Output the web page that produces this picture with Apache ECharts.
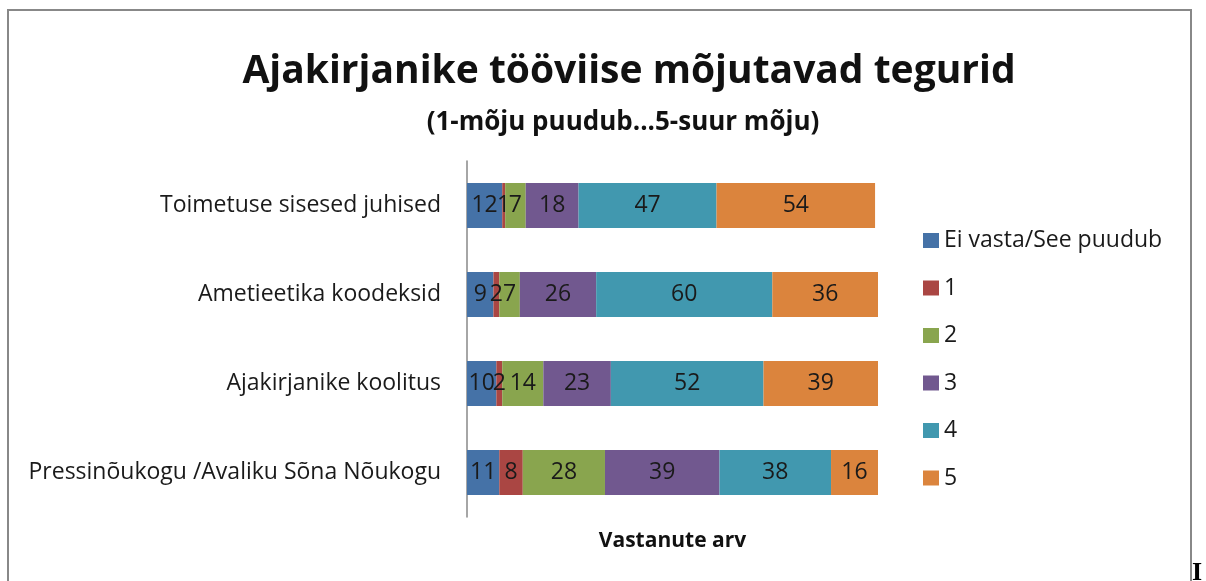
<!DOCTYPE html>
<html>
<head>
<meta charset="utf-8">
<script src="https://cdn.jsdelivr.net/npm/echarts@6/dist/echarts.min.js"></script>
<style>
  html, body { margin: 0; padding: 0; background: #fff; }
  #chart { width: 1206px; height: 581px; }
</style>
</head>
<body>
<div id="chart"></div>
<script>
// andmed
var categories = ['Toimetuse sisesed juhised', 'Ametieetika koodeksid', 'Ajakirjanike koolitus', 'Pressinõukogu /Avaliku Sõna Nõukogu'];
var seriesNames = ['Ei vasta/See puudub', '1', '2', '3', '4', '5'];
var eiVasta = [12, 9, 10, 11];
var hinne1 = [1, 2, 2, 8];
var hinne2 = [7, 7, 14, 28];
var hinne3 = [18, 26, 23, 39];
var hinne4 = [47, 60, 52, 38];
var hinne5 = [54, 36, 39, 16];
var colors = ['#4572A7', '#AA4643', '#89A54E', '#71588F', '#4198AF', '#DB843D'];

var font = '"Open Sans", "Noto Sans", sans-serif';

function createChart(id) {
    var myChart = echarts.init(document.getElementById(id));
    var values = [eiVasta, hinne1, hinne2, hinne3, hinne4, hinne5];
    var series = [];
    for (var i = 0; i < seriesNames.length; i++) {
        series.push({
            name: seriesNames[i],
            type: 'bar',
            stack: 'kokku',
            barWidth: 45,
            data: values[i],
            itemStyle: { color: colors[i] },
            label: {
                show: true,
                position: 'inside',
                color: '#1a1a1a',
                fontFamily: font,
                fontSize: 23
            }
        });
    }
    var option = {
        animation: false,
        color: colors,
        title: [{
            text: 'Ajakirjanike tööviise mõjutavad tegurid',
            left: 624,
            top: 47,
            textAlign: 'center',
            textStyle: { fontFamily: font, fontSize: 39, fontWeight: 'bold', color: '#111' }
        }, {
            text: '(1-mõju puudub...5-suur mõju)',
            left: 618,
            top: 105,
            textAlign: 'center',
            textStyle: { fontFamily: font, fontSize: 26, fontWeight: 'bold', color: '#111' }
        }],
        legend: {
            orient: 'vertical',
            left: 918,
            top: 224,
            itemWidth: 16,
            itemHeight: 15,
            itemGap: 24.5,
            icon: 'rect',
            textStyle: { fontFamily: font, fontSize: 23, lineHeight: 23, color: '#1a1a1a' },
            data: seriesNames
        },
        grid: { left: 467, right: 328, top: 161, bottom: 64, containLabel: false },
        xAxis: {
            type: 'value',
            min: 0,
            max: 140,
            axisLine: { show: false },
            axisTick: { show: false },
            axisLabel: { show: false },
            splitLine: { show: false },
            name: 'Vastanute arv',
            nameLocation: 'middle',
            nameGap: 14,
            nameTextStyle: { fontFamily: font, fontSize: 21, fontWeight: 'bold', color: '#111' }
        },
        yAxis: {
            type: 'category',
            inverse: true,
            data: categories,
            axisLine: { show: true, lineStyle: { color: '#888', width: 1.5 } },
            axisTick: { show: false },
            axisLabel: { margin: 26, fontFamily: font, fontSize: 23, color: '#1a1a1a' }
        },
        graphic: [{
            type: 'rect',
            shape: { x: 8, y: 10, width: 1183, height: 700 },
            style: { fill: 'none', stroke: '#888', lineWidth: 2 },
            silent: true
        }, {
            type: 'text',
            left: 1192,
            top: 560,
            style: { text: 'I', font: 'bold 26px "Liberation Serif", serif', fill: '#000' },
            silent: true
        }],
        series: series
    };
    myChart.setOption(option);
}

createChart('chart');
</script>
</body>
</html>
